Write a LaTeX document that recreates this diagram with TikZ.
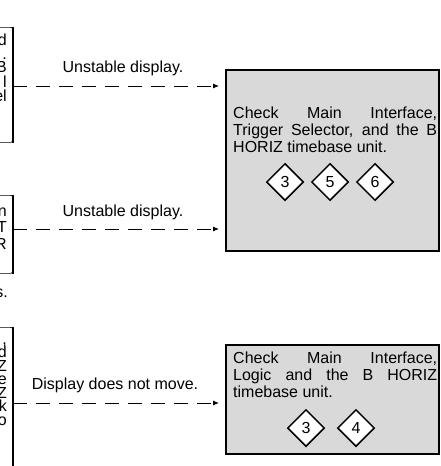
\documentclass[tikz,border=0pt]{standalone}
\usepackage{fontspec}
\setmainfont{Liberation Sans}
\usetikzlibrary{arrows.meta,positioning,shapes.geometric}
\definecolor{panelgrey}{HTML}{D9D9D9}
\hyphenpenalty=10000
\tolerance=10000

\begin{document}
\begin{tikzpicture}[x=1pt,y=-1pt,>={Latex[length=6pt,width=5pt]}]
\tikzstyle{flow}=[->,dash pattern=on 14pt off 9pt,line width=0.9pt,shorten >=6pt]
\tikzstyle{panel}=[draw,line width=1.6pt,fill=panelgrey,minimum width=213pt,anchor=north west,inner sep=0pt]
\tikzstyle{inbox}=[draw,line width=0.7pt,rounded corners=2pt,minimum width=40pt,anchor=north east,inner sep=0pt]
\tikzstyle{ref}=[diamond,draw,line width=1.5pt,fill=white,minimum width=37pt,minimum height=37pt,inner sep=0pt,font=\fontsize{16}{16}\selectfont]
\tikzstyle{msg}=[font=\fontsize{16}{17}\selectfont,text width=204pt,align=justify,inner sep=0pt,anchor=north west]
\tikzstyle{note}=[font=\fontsize{16}{17}\selectfont,inner sep=0pt]
\tikzstyle{cut}=[font=\fontsize{16}{17}\selectfont,inner sep=0pt,anchor=base east]
\useasboundingbox (0,0) rectangle (441,466);

% left boxes, cut off by the page edge
\node[inbox,minimum height=115pt] (in1) at (13,27) {};
\node[inbox,minimum height=78pt] (in2) at (13,195) {};
\node[inbox,minimum height=180pt] (in3) at (13,327) {};
\foreach \b in {in1,in2,in3}
    \draw[line width=2pt] (\b.north east) -- (\b.south east);

% visible word ends
\node[cut] (w11) at (7,45) {d};
\node[cut] (w12) at (7,59) {.};
\node[cut] (w13) at (7,72) {B};
\node[cut] (w14) at (7,87) {l};
\node[cut] (w15) at (7,101) {el};
\node[cut] (w21) at (7,216) {n};
\node[cut] (w22) at (7,232) {T};
\node[cut] (w23) at (7,249) {R};
\node[cut] (w30) at (8,297) {s.};
\foreach \t [count=\i] in {{,},d,Z,e,Z,k,o}
    \node[cut] (w3\i) at (7,330.5+13.5*\i) {\t};

% check panels
\node[panel,minimum height=181pt] (chk1) at (225,69) {};
\node[panel,minimum height=109pt] (chk2) at (225,344) {};
\node[msg] (txt1) at (233,107) {Check Main Interface,\linebreak Trigger Selector, and the B\linebreak HORIZ timebase unit.};
\node[msg] (txt2) at (233,352) {Check Main Interface,\linebreak Logic and the B HORIZ\linebreak timebase unit.};
\foreach \n/\x in {3/285,5/330,6/375}
    \node[ref] (a\n) at (\x,182) {\n};
\foreach \n/\x in {3/306,4/356}
    \node[ref] (b\n) at (\x,428) {\n};

% arrows
\coordinate (y1) at (0,86);
\coordinate (y2) at (0,229);
\coordinate (y3) at (0,403);
\node[note] (lab1) at (123,68) {Unstable display.};
\node[note] (lab2) at (123,212) {Unstable display.};
\node[note] (lab3) at (115,385) {Display does not move.};
\draw[flow] (in1.east |- y1) -- (chk1.west |- y1);
\draw[flow] (in2.east |- y2) -- (chk1.west |- y2);
\draw[flow] (in3.east |- y3) -- (chk2.west |- y3);
\end{tikzpicture}
\end{document}
